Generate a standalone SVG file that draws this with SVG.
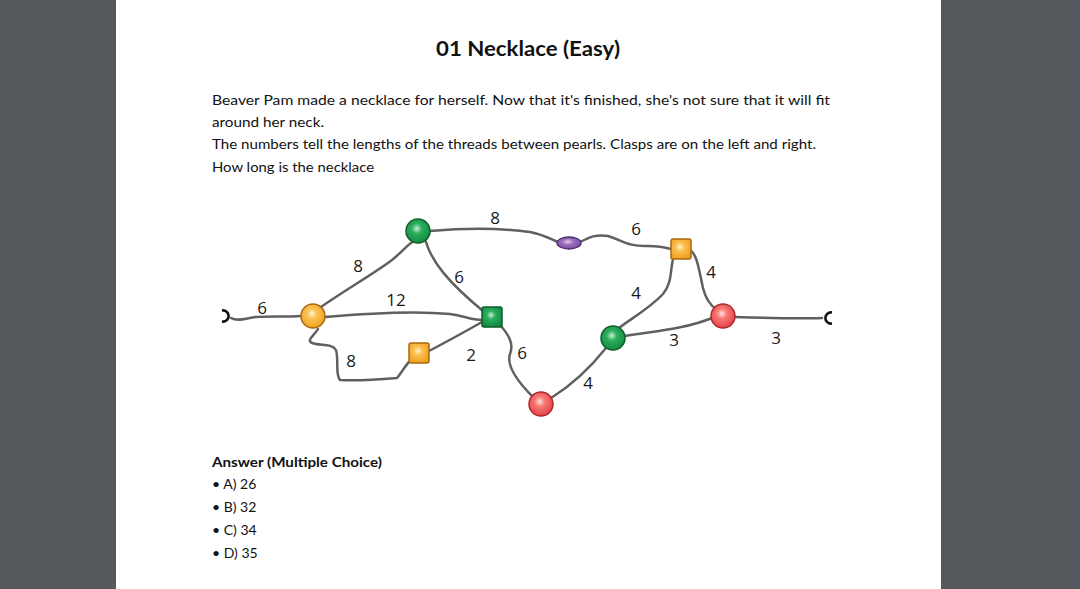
<svg xmlns="http://www.w3.org/2000/svg" width="1080" height="589" viewBox="0 0 1080 589">
<style>
.t{font-family:Lato,"Open Sans","Liberation Sans",sans-serif;fill:#111}
.body{font-size:14px}
.lbl{font-family:"Open Sans","Liberation Sans",sans-serif;font-size:17px;fill:#1a1a1a;text-anchor:middle}
.th{fill:none;stroke:#606060;stroke-width:2.5;stroke-linecap:round;stroke-linejoin:round}
.clasp{fill:none;stroke:#111;stroke-width:2.6}
</style>
<defs>
<radialGradient id="gOr" cx="0.45" cy="0.4" r="0.6"><stop offset="0" stop-color="#fff3cf"/><stop offset="0.35" stop-color="#fbc255"/><stop offset="1" stop-color="#f0a020"/></radialGradient>
<radialGradient id="gGr" cx="0.45" cy="0.4" r="0.6"><stop offset="0" stop-color="#c9f0d6"/><stop offset="0.35" stop-color="#2dae5d"/><stop offset="1" stop-color="#138c42"/></radialGradient>
<radialGradient id="gRd" cx="0.45" cy="0.4" r="0.6"><stop offset="0" stop-color="#ffe0dc"/><stop offset="0.35" stop-color="#f77a74"/><stop offset="1" stop-color="#e8424a"/></radialGradient>
<radialGradient id="gPu" cx="0.45" cy="0.4" r="0.6"><stop offset="0" stop-color="#e4d0f0"/><stop offset="0.4" stop-color="#9d70be"/><stop offset="1" stop-color="#7b4ca0"/></radialGradient>
</defs>
<rect width="1080" height="589" fill="#55585c"/>
<rect x="116" y="0" width="825" height="589" fill="#ffffff"/>

<g id="text">
<text class="t" x="528" y="56" font-size="20" font-weight="bold" text-anchor="middle" textLength="184" lengthAdjust="spacingAndGlyphs">01 Necklace (Easy)</text>
<text class="t body" x="212" y="105" textLength="618" lengthAdjust="spacingAndGlyphs">Beaver Pam made a necklace for herself. Now that it's finished, she's not sure that it will fit</text>
<text class="t body" x="212" y="127" textLength="112" lengthAdjust="spacingAndGlyphs">around her neck.</text>
<text class="t body" x="212" y="149" textLength="604" lengthAdjust="spacingAndGlyphs">The numbers tell the lengths of the threads between pearls. Clasps are on the left and right.</text>
<text class="t body" x="212" y="172" textLength="162" lengthAdjust="spacingAndGlyphs">How long is the necklace</text>
<text class="t body" x="212" y="467" font-weight="bold" textLength="170" lengthAdjust="spacingAndGlyphs">Answer (Multiple Choice)</text>
<text class="t body" x="212" y="489">• A) 26</text>
<text class="t body" x="212" y="512">• B) 32</text>
<text class="t body" x="212" y="535">• C) 34</text>
<text class="t body" x="212" y="558">• D) 35</text>
</g>

<g id="connectors">
<path class="th" d="M231,318 C238,322 246,318 256,317 C270,316 285,317 301,316"/>
<path class="th" d="M321,307 C345,290 372,275 392,260 C403,251 408,244 414,241"/>
<path class="th" d="M325,317 C370,313 420,311 450,314 C465,316 470,320 482,320"/>
<path class="th" d="M426,242 C432,262 448,282 483,311"/>
<path class="th" d="M430,231 C465,228 500,228 530,232 C545,235 552,240 558,242"/>
<path class="th" d="M580,242 C590,237 596,234 608,236 C622,240 628,247 648,246 C658,246 664,247 671,249"/>
<path class="th" d="M690,250 C697,254 699,270 703,288 C706,300 710,305 716,309"/>
<path class="th" d="M673,259 C670,272 672,283 663,294 C650,308 632,318 619,328"/>
<path class="th" d="M625,336 C655,331 685,329 712,318"/>
<path class="th" d="M735,317 C765,318 795,319 822,318"/>
<path class="th" d="M500,325 C509,335 514,344 510,354 C506,366 520,384 533,397"/>
<path class="th" d="M551,398 C572,385 590,368 606,348"/>
<path class="th" d="M318,329 C314,336 306,340 312,343 C320,346 332,343 336,350 C339,360 335,375 340,380 C355,381 385,379 397,378 C402,372 405,366 409,362"/>
<path class="th" d="M429,351 C448,341 468,330 482,322"/>
</g>

<g id="clasp-left"><path class="clasp" d="M222,310.5 A5.6,5.6 0 1 1 222,321.5"/></g>
<g id="clasp-right"><path class="clasp" d="M832,312.5 A5.6,5.6 0 1 0 832,323.5"/></g>

<g id="n-orange-circle"><circle cx="313" cy="316" r="12" fill="url(#gOr)" stroke="#a86a10" stroke-width="1.5"/></g>
<g id="n-green-top"><circle cx="418" cy="231" r="12" fill="url(#gGr)" stroke="#0e5e2c" stroke-width="1.5"/></g>
<g id="n-green-square"><rect x="482" y="307" width="20" height="20" rx="2" fill="url(#gGr)" stroke="#0e5e2c" stroke-width="1.5"/></g>
<g id="n-orange-square-low"><rect x="409" y="343" width="20" height="20" rx="2" fill="url(#gOr)" stroke="#a86a10" stroke-width="1.5"/></g>
<g id="n-red-bottom"><circle cx="541" cy="404" r="12" fill="url(#gRd)" stroke="#a82a2a" stroke-width="1.5"/></g>
<g id="n-purple"><ellipse cx="569" cy="243" rx="12" ry="6" fill="url(#gPu)" stroke="#4e2a70" stroke-width="1.3"/></g>
<g id="n-orange-square-right"><rect x="671" y="239" width="20" height="20" rx="2" fill="url(#gOr)" stroke="#a86a10" stroke-width="1.5"/></g>
<g id="n-green-right"><circle cx="613" cy="338" r="12" fill="url(#gGr)" stroke="#0e5e2c" stroke-width="1.5"/></g>
<g id="n-red-right"><circle cx="723" cy="316" r="12" fill="url(#gRd)" stroke="#a82a2a" stroke-width="1.5"/></g>

<g id="labels">
<text class="lbl" x="262" y="314">6</text>
<text class="lbl" x="358" y="272">8</text>
<text class="lbl" x="396" y="306">12</text>
<text class="lbl" x="459" y="283">6</text>
<text class="lbl" x="495" y="224">8</text>
<text class="lbl" x="351" y="367">8</text>
<text class="lbl" x="471" y="361">2</text>
<text class="lbl" x="522" y="359">6</text>
<text class="lbl" x="636" y="235">6</text>
<text class="lbl" x="711" y="278">4</text>
<text class="lbl" x="636" y="299">4</text>
<text class="lbl" x="674" y="346">3</text>
<text class="lbl" x="588" y="389">4</text>
<text class="lbl" x="776" y="344">3</text>
</g>
</svg>
